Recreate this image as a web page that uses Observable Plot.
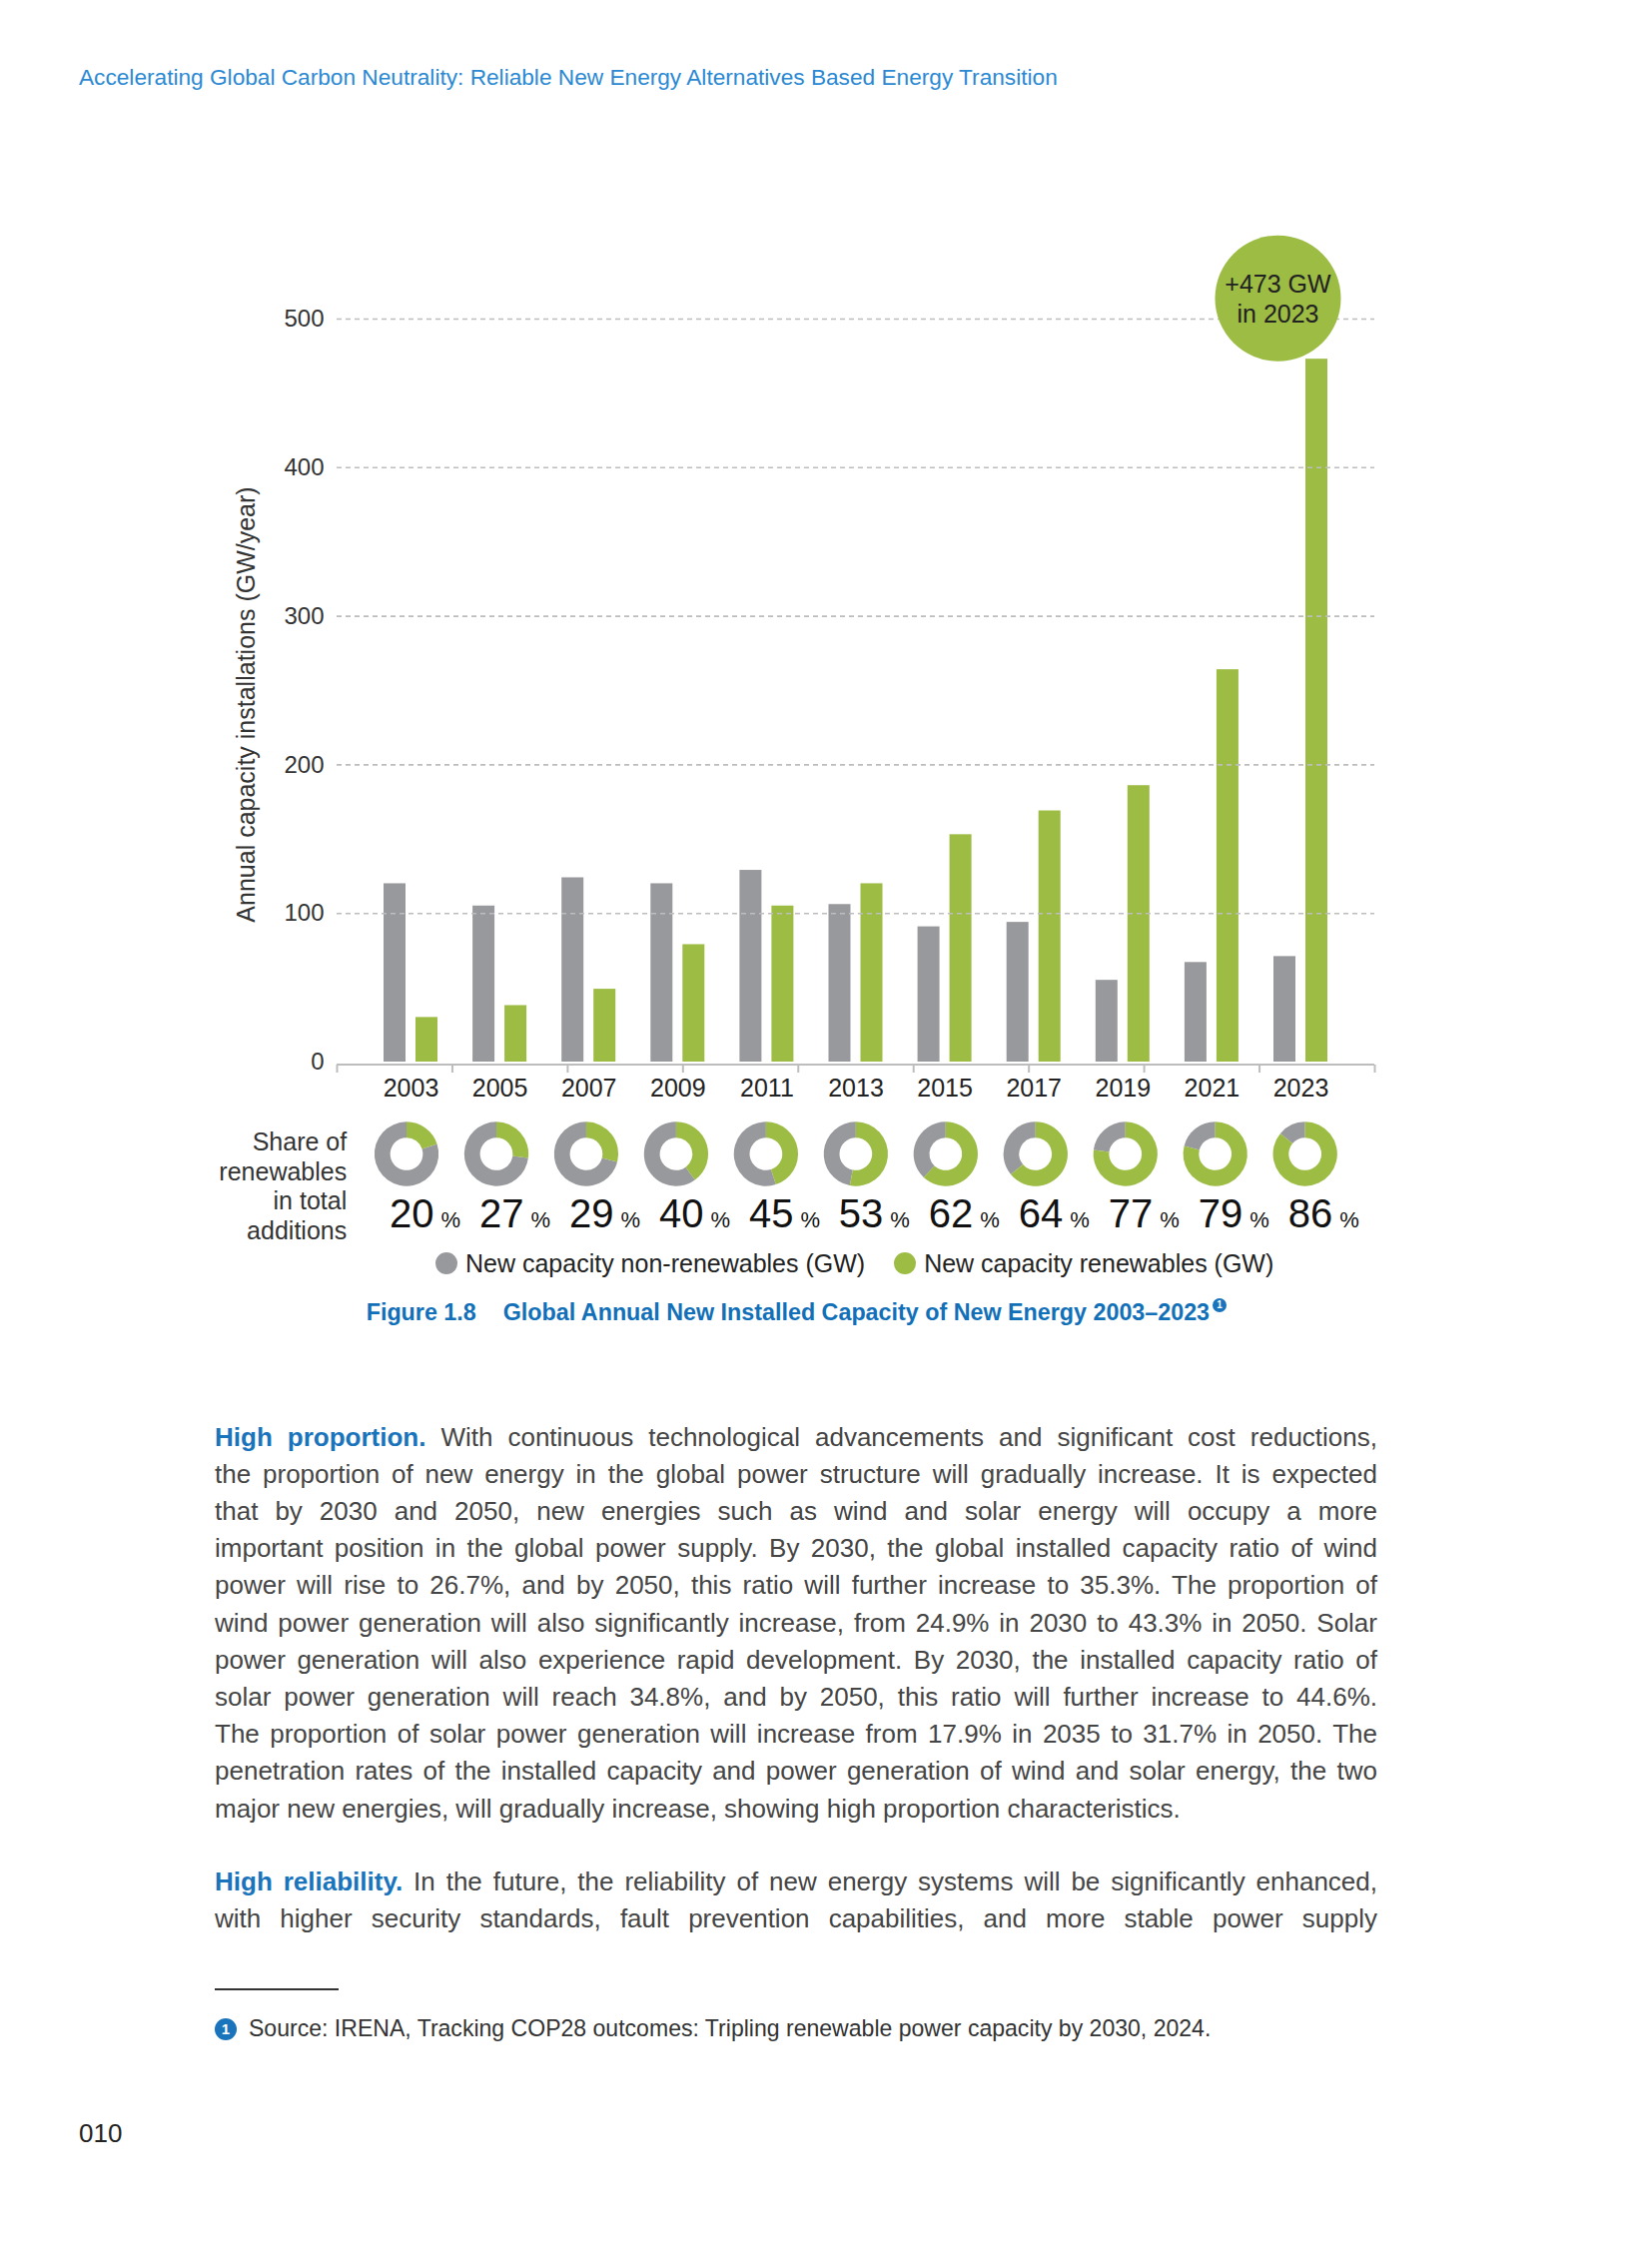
<!DOCTYPE html>
<html>
<head>
<meta charset="utf-8">
<script src="https://cdn.jsdelivr.net/npm/d3@7"></script>
<script src="https://cdn.jsdelivr.net/npm/@observablehq/plot@0.6"></script>
<style>
html,body{margin:0;padding:0;background:#fff;overflow:hidden;}
#page{position:relative;width:1654px;height:2244px;overflow:hidden;font-family:"Liberation Sans",Arial,Helvetica,sans-serif;color:#404040;background:#fff;}
.abs{position:absolute;white-space:nowrap;}
.block{position:absolute;left:215px;width:1164px;font-size:26px;line-height:37.2px;color:#454545;}
.block .ln{height:37.2px;white-space:nowrap;}
.lead{color:#1a74bb;font-weight:bold;}
.badge{display:inline-block;border-radius:50%;background:#1a74bb;color:#fff;font-weight:bold;text-align:center;}
.legend{position:absolute;display:flex;align-items:center;height:30px;font-size:25px;line-height:30px;color:#222;white-space:nowrap;}
.legend .sw{display:inline-block;width:22px;height:22px;border-radius:50%;margin-right:8px;}
</style>
</head>
<body>
<div id="page"></div>
<script>
// ---------- data ----------
const years = ["2003", "2005", "2007", "2009", "2011", "2013", "2015", "2017", "2019", "2021", "2023"];
const nonRenewables = [120, 105, 124, 120, 129, 106, 91, 94, 55, 67, 71];
const renewables = [30, 38, 49, 79, 105, 120, 153, 169, 186, 264, 473];
const shares = [20, 27, 29, 40, 45, 53, 62, 64, 77, 79, 86];
const yTicks = [0, 100, 200, 300, 400, 500];
const dividerTicks = [0, 1, 2, 3, 4, 5, 6, 7, 8, 9];
const seriesNames = ["New capacity non-renewables (GW)", "New capacity renewables (GW)"];
const yTitle = "Annual capacity installations (GW/year)";
const rowLabel = "Share of\nrenewables\nin total\nadditions";
const highlight = {year: "2023", value: 473};

const headerText = "Accelerating Global Carbon Neutrality: Reliable New Energy Alternatives Based Energy Transition";
const figureNumber = "Figure 1.8";
const figureTitle = "Global Annual New Installed Capacity of New Energy 2003–2023";
const para1Lead = "High proportion.";
const para1Lines = [
  "With continuous technological advancements and significant cost reductions,",
  "the proportion of new energy in the global power structure will gradually increase. It is expected",
  "that by 2030 and 2050, new energies such as wind and solar energy will occupy a more",
  "important position in the global power supply. By 2030, the global installed capacity ratio of wind",
  "power will rise to 26.7%, and by 2050, this ratio will further increase to 35.3%. The proportion of",
  "wind power generation will also significantly increase, from 24.9% in 2030 to 43.3% in 2050. Solar",
  "power generation will also experience rapid development. By 2030, the installed capacity ratio of",
  "solar power generation will reach 34.8%, and by 2050, this ratio will further increase to 44.6%.",
  "The proportion of solar power generation will increase from 17.9% in 2035 to 31.7% in 2050. The",
  "penetration rates of the installed capacity and power generation of wind and solar energy, the two",
  "major new energies, will gradually increase, showing high proportion characteristics."
];
const para2Lead = "High reliability.";
const para2Lines = [
  "In the future, the reliability of new energy systems will be significantly enhanced,",
  "with higher security standards, fault prevention capabilities, and more stable power supply"
];
const footnoteText = "Source: IRENA, Tracking COP28 outcomes: Tripling renewable power capacity by 2030, 2024.";
const pageNumber = "010";

// ---------- styles ----------
const GRAY = "#98999c";
const GREEN = "#9cbc44";
const LINE = "#bdbdbd";
const FONT = "'Liberation Sans', Arial, Helvetica, sans-serif";

const data = years.map((year, i) => ({
  year, nonRenewables: nonRenewables[i], renewables: renewables[i], share: shares[i]
}));

const page = document.getElementById("page");

function addText(html, left, baseline, fontSize, style = {}) {
  const el = document.createElement("div");
  el.className = "abs";
  el.style.left = left + "px";
  el.style.fontSize = fontSize + "px";
  el.style.lineHeight = "1";
  el.style.top = (baseline - 0.8465 * fontSize) + "px";
  Object.assign(el.style, style);
  el.innerHTML = html;
  page.appendChild(el);
  return el;
}
function fitWidth(el, target) {
  const w = el.getBoundingClientRect().width;
  const fs = parseFloat(el.style.fontSize);
  const baseline = parseFloat(el.style.top) + 0.8465 * fs;
  const nfs = fs * target / w;
  el.style.fontSize = nfs + "px";
  el.style.top = (baseline - 0.8465 * nfs) + "px";
}
function place(node, top) {
  const w = document.createElement("div");
  w.className = "abs";
  w.style.left = "0px";
  w.style.top = top + "px";
  w.style.width = "1654px";
  w.appendChild(node);
  page.appendChild(w);
}

// ---------- header ----------
const hdr = addText(headerText, 79, 85, 22.5, {color: "#2b89d3"});
fitWidth(hdr, 980);

// ---------- main chart ----------
const main = Plot.plot({
  width: 1654,
  height: 1050,
  marginLeft: 337,
  marginRight: 278,
  marginTop: 119,
  marginBottom: 187,
  style: {fontFamily: FONT, fontSize: "25px", color: "#222", overflow: "visible"},
  x: {type: "band", domain: years, paddingInner: 0.394, paddingOuter: 0.5275, round: false},
  y: {domain: [0, 500]},
  marks: [
    Plot.barY(data, {x: "year", y: "nonRenewables", fill: GRAY, insetRight: 32}),
    Plot.barY(data, {x: "year", y: "renewables", fill: GREEN, insetLeft: 32}),
    Plot.ruleY(yTicks.filter(d => d > 0), {stroke: LINE, strokeWidth: 1.6, strokeDasharray: "5,4"}),
    Plot.ruleY([0], {stroke: LINE, strokeWidth: 2, dy: 2.5}),
    Plot.axisY(yTicks, {tickSize: 0, tickPadding: 13, fontSize: 24, label: null, fill: "#333"}),
    Plot.axisX({tickSize: 0, tickPadding: 17, fontSize: 25, label: null, fill: "#222"}),
    Plot.text([yTitle], {text: d => d, frameAnchor: "left", textAnchor: "middle", rotate: -90, dx: -91, dy: 14, fontSize: 25, fill: "#333"}),
    // highlight bubble
    Plot.dot([highlight], {x: "year", y: "value", r: 63, fill: GREEN, dx: -23, dy: -61}),
    Plot.text([highlight], {x: "year", y: "value", text: d => `+${d.value} GW\nin ${d.year}`, dx: -23, dy: -61, fontSize: 25, lineHeight: 1.2, fill: "#222"})
  ]
});
place(main, 200);

// decorative axis divider ticks
const ticks = Plot.plot({
  width: 1654, height: 8,
  marginLeft: 337, marginRight: 278, marginTop: 0, marginBottom: 0,
  style: {background: "transparent", overflow: "visible"},
  x: {domain: [0, 9], axis: null},
  marks: [Plot.tickX(dividerTicks, {x: d => d, stroke: LINE, strokeWidth: 2})]
});
place(ticks, 1066);

// ---------- share-of-renewables row (donuts) ----------
function donuts(index, scales, values, dimensions) {
  const g = d3.create("svg:g");
  const arc = d3.arc().innerRadius(16.35).outerRadius(32.15);
  const cy = dimensions.marginTop + 92.5;
  const bw = scales.x.bandwidth ? scales.x.bandwidth() : 0;
  for (const d of data) {
    const cx = scales.x(d.year) + bw / 2;
    const a = d.share / 100 * 2 * Math.PI;
    const gg = g.append("g").attr("transform", `translate(${cx},${cy})`);
    gg.append("path").attr("d", arc({startAngle: a, endAngle: 2 * Math.PI})).attr("fill", GRAY);
    gg.append("path").attr("d", arc({startAngle: 0, endAngle: a})).attr("fill", GREEN);
  }
  return g.node();
}
const shareRow = Plot.plot({
  width: 1654,
  height: 190,
  marginLeft: 332.3,
  marginRight: 272.6,
  marginTop: 0,
  marginBottom: 0,
  style: {fontFamily: FONT, fontSize: "25px", color: "#222", background: "transparent", overflow: "visible"},
  x: {type: "band", domain: years, paddingInner: 0.394, paddingOuter: 0.5275, round: false, axis: null},
  marks: [
    donuts,
    Plot.text(data, {x: "year", text: d => String(d.share), frameAnchor: "top", lineAnchor: "bottom", dy: 165, dx: 27, textAnchor: "end", fontSize: 40, fill: "#111"}),
    Plot.text(data, {x: "year", text: () => "%", frameAnchor: "top", lineAnchor: "bottom", dy: 165, dx: 34, textAnchor: "start", fontSize: 22, fill: "#111"}),
    Plot.text([rowLabel], {text: d => d, frameAnchor: "top-left", textAnchor: "end", lineAnchor: "bottom", dx: 14.4, dy: 177.7, fontSize: 25, lineHeight: 1.19, fill: "#333"})
  ]
});
place(shareRow, 1063);

// ---------- legend ----------
const legend = document.createElement("div");
legend.className = "legend";
legend.style.left = "436px";
legend.style.top = "1250px";
[GRAY, GREEN].forEach((c, i) => {
  const sw = document.createElement("span");
  sw.className = "sw";
  sw.style.background = c;
  if (i > 0) sw.style.marginLeft = "29px";
  const tx = document.createElement("span");
  tx.textContent = seriesNames[i];
  legend.appendChild(sw);
  legend.appendChild(tx);
});
page.appendChild(legend);

// ---------- caption ----------
addText(`<span style="margin-right:27px">${figureNumber}</span>${figureTitle}<span class="badge" style="width:14px;height:14px;font-size:10px;line-height:14px;margin-left:3px;position:relative;top:-12px">1</span>`,
  366.7, 1323, 23.3, {color: "#1170b8", fontWeight: "bold"});

// ---------- body text ----------
function addParagraph(lead, lines, top, justifyLast) {
  const block = document.createElement("div");
  block.className = "block";
  block.style.top = top + "px";
  page.appendChild(block);
  lines.forEach((txt, i) => {
    const ln = document.createElement("div");
    ln.className = "ln";
    const sp = document.createElement("span");
    if (i === 0) sp.innerHTML = `<span class="lead">${lead}</span> ${txt}`;
    else sp.textContent = txt;
    ln.appendChild(sp);
    block.appendChild(ln);
    const isLast = i === lines.length - 1;
    if (!isLast || justifyLast) {
      const full = sp.textContent;
      const spaces = (full.match(/ /g) || []).length;
      const w = sp.getBoundingClientRect().width;
      if (spaces > 0) ln.style.wordSpacing = ((1164 - w) / spaces) + "px";
    }
  });
}
addParagraph(para1Lead, para1Lines, 1420.7, false);
addParagraph(para2Lead, para2Lines, 1865.9, true);

// ---------- footnote ----------
const rule = document.createElement("div");
rule.className = "abs";
Object.assign(rule.style, {left: "215px", top: "1991px", width: "124px", height: "1.5px", background: "#333"});
page.appendChild(rule);
const badge = document.createElement("div");
badge.className = "abs badge";
Object.assign(badge.style, {left: "215px", top: "2021px", width: "22px", height: "22px", fontSize: "15px", lineHeight: "22px"});
badge.textContent = "1";
page.appendChild(badge);
const fn = addText(footnoteText, 249, 2040, 21.5, {color: "#333"});
fitWidth(fn, 964);

// ---------- page number ----------
addText(pageNumber, 79, 2145, 26, {color: "#222"});
</script>
</body>
</html>
